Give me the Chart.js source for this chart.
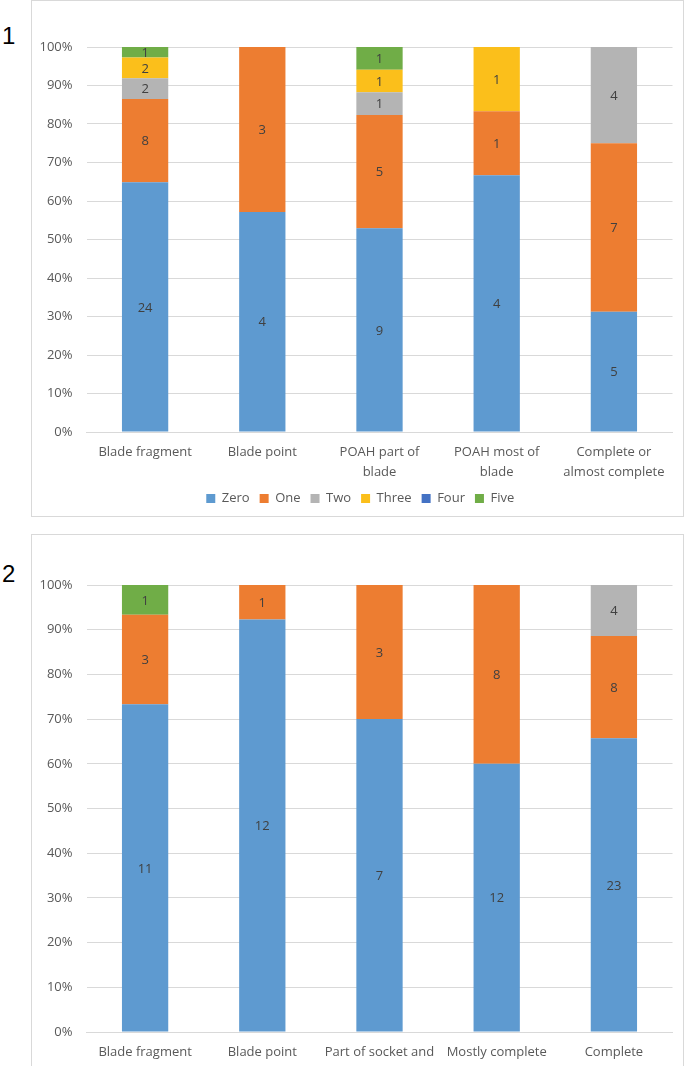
<!DOCTYPE html>
<html>
<head>
<meta charset="utf-8">
<script src="https://cdn.jsdelivr.net/npm/chart.js@4/dist/chart.umd.min.js"></script>
<style>
  html, body { margin:0; padding:0; background:#fff; }
  body { width:685px; height:1066px; overflow:hidden; position:relative; font-family:"Open Sans", sans-serif; }
  .box { position:absolute; left:31px; width:651px; border:1px solid #d9d9d9; background:#fff; }
  #box1 { top:0px; height:515px; }
  #box2 { top:534px; height:581px; }
  .num { position:absolute; left:2px; font-family:"Liberation Sans", sans-serif; font-size:24px; color:#000; }
  canvas { display:block; }
</style>
</head>
<body>
<div class="num" style="top:22px;">1</div>
<div class="num" style="top:560px;">2</div>
<div class="box" id="box1"><canvas id="c1" width="651" height="515"></canvas></div>
<div class="box" id="box2"><canvas id="c2" width="651" height="581"></canvas></div>
<script>
// ---- Data ----
const seriesNames = ["Zero", "One", "Two", "Three", "Four", "Five"];
const seriesColors = ["#5E9AD0", "#ED7D31", "#B4B4B4", "#FBBF1B", "#4472C4", "#70AD47"];

const categories1 = ["Blade fragment", "Blade point", ["POAH part of", "blade"], ["POAH most of", "blade"], ["Complete or", "almost complete"]];
const zero1  = [24, 4, 9, 4, 5];
const one1   = [8, 3, 5, 1, 7];
const two1   = [2, 0, 1, 0, 4];
const three1 = [2, 0, 1, 1, 0];
const four1  = [0, 0, 0, 0, 0];
const five1  = [1, 0, 1, 0, 0];

const categories2 = ["Blade fragment", "Blade point", ["Part of socket and", "of blade"], "Mostly complete", "Complete"];
const zero2  = [11, 12, 7, 12, 23];
const one2   = [3, 1, 3, 8, 8];
const two2   = [0, 0, 0, 0, 4];
const three2 = [0, 0, 0, 0, 0];
const four2  = [0, 0, 0, 0, 0];
const five2  = [1, 0, 0, 0, 0];

const yTickValues = [0, 10, 20, 30, 40, 50, 60, 70, 80, 90, 100];

// ---- Helpers ----
const TXT = "#595959";
const FONT = "'Open Sans', sans-serif";

function buildDatasets(seriesCounts) {
  const n = seriesCounts[0].length;
  const totals = [];
  for (let i = 0; i < n; i++) {
    let t = 0;
    seriesCounts.forEach(s => t += s[i]);
    totals.push(t);
  }
  return seriesCounts.map((counts, k) => ({
    label: seriesNames[k],
    counts: counts,
    data: counts.map((c, i) => c / totals[i] * 100),
    backgroundColor: seriesColors[k],
    borderWidth: 0,
    categoryPercentage: 1.0,
    barPercentage: 0.395
  }));
}

const labelPlugin = {
  id: 'countLabels',
  afterLayout(chart) {
    if (chart.legend) { chart.legend.left = 16; }
  },
  afterDatasetsDraw(chart) {
    const ctx = chart.ctx;
    ctx.save();
    ctx.font = "13px " + FONT;
    ctx.fillStyle = "#404040";
    ctx.textAlign = "center";
    ctx.textBaseline = "middle";
    chart.data.datasets.forEach((ds, di) => {
      const meta = chart.getDatasetMeta(di);
      if (meta.hidden) return;
      meta.data.forEach((el, i) => {
        const c = ds.counts[i];
        if (!c) return;
        const p = el.getProps(['x', 'y', 'base'], true);
        ctx.fillText(String(c), p.x, (p.y + p.base) / 2 + 1);
      });
    });
    ctx.restore();
  }
};

function makeChart(id, categories, seriesCounts, padTop) {
  return new Chart(document.getElementById(id), {
    type: 'bar',
    data: { labels: categories, datasets: buildDatasets(seriesCounts) },
    plugins: [labelPlugin],
    options: {
      responsive: false,
      animation: false,
      devicePixelRatio: 1,
      layout: { padding: { top: padTop, right: 10.5, left: 0, bottom: 1 } },
      plugins: {
        tooltip: { enabled: false },
        legend: {
          position: 'bottom',
          labels: {
            boxWidth: 9, boxHeight: 9, padding: 10,
            color: TXT,
            font: { family: FONT, size: 13 }
          }
        }
      },
      scales: {
        x: {
          stacked: true,
          grid: { display: false },
          border: { display: true, color: "#d9d9d9", width: 1 },
          ticks: {
            color: TXT, font: { family: FONT, size: 13, lineHeight: 1.5 },
            maxRotation: 0, minRotation: 0, autoSkip: false, padding: 3
          },
          afterFit(scale) { scale.height = 50; }
        },
        y: {
          stacked: true,
          min: 0, max: 100,
          afterBuildTicks(scale) { scale.ticks = yTickValues.map(v => ({ value: v })); },
          grid: { color: "#d9d9d9", drawTicks: false, lineWidth: 1 },
          border: { display: false },
          ticks: {
            color: TXT, font: { family: FONT, size: 13 }, padding: 14,
            callback: v => v + "%"
          },
          afterFit(scale) { scale.width = 54.5; }
        }
      }
    }
  });
}

makeChart('c1', categories1, [zero1, one1, two1, three1, four1, five1], 46);
makeChart('c2', categories2, [zero2, one2, two2, three2, four2, five2], 50);
</script>
</body>
</html>
